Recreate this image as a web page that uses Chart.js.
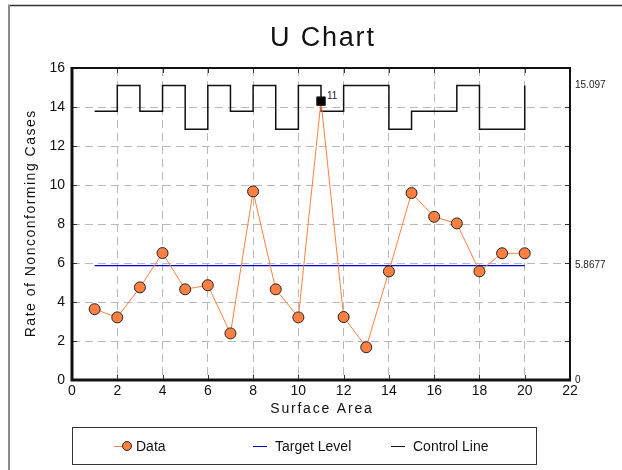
<!DOCTYPE html>
<html lang="en">
<head>
    <meta charset="UTF-8">
    <title>U Chart</title>
    <script src="https://cdn.jsdelivr.net/npm/chart.js"></script>
    <style>
        body {
            margin: 0;
            background: #fff;
        }
        #wrap {
            width: 622px;
            height: 470px;
        }
    </style>
</head>
<body>
    <div id="wrap">
        <canvas id="u-chart" width="622" height="470"></canvas>
    </div>

    <script>
        // Data
        const samples = [1, 2, 3, 4, 5, 6, 7, 8, 9, 10, 11, 12, 13, 14, 15, 16, 17, 18, 19, 20];
        const rates = [3.63, 3.21, 4.75, 6.51, 4.65, 4.86, 2.39, 9.67, 4.65, 3.21,
                       14.3, 3.23, 1.68, 5.57, 9.59, 8.37, 8.03, 5.57, 6.5, 6.5];
        const controlLimits = [13.78, 15.097, 13.78, 15.097, 12.86, 15.097, 13.78, 15.097, 12.86, 15.097,
                               13.78, 15.097, 15.097, 12.86, 13.78, 13.78, 15.097, 12.86, 12.86, 15.097];
        const targetLevel = 5.8677;
        const outOfControl = [11];
        const rightLabels = [0, 5.8677, 15.097];
        const legendNames = ['Data', 'Target Level', 'Control Line'];
        const chartTitle = 'U Chart';
        const xTitle = 'Surface Area';
        const yTitle = 'Rate of Nonconforming Cases';

        const orange = '#ff8040';
        const gridGray = '#b9b9b9';
        const fontFamily = "'Liberation Sans', Arial, sans-serif";
        Chart.defaults.font.family = fontFamily;
        Chart.defaults.color = '#111';

        const dataPoints = samples.map((s, i) => ({ x: s, y: rates[i] }));
        const targetPoints = [samples[0], samples[samples.length - 1]].map(s => ({ x: s, y: targetLevel }));
        const limitPoints = samples.map((s, i) => ({ x: s, y: controlLimits[i] }));
        const isOut = ctx => outOfControl.includes(samples[ctx.dataIndex]);

        // text drawn with a bit of letter spacing, like the original
        function spacedText(ctx, text, x, y, size, spacing) {
            ctx.font = size + 'px ' + fontFamily;
            ctx.letterSpacing = spacing + 'px';
            ctx.textAlign = 'center';
            ctx.textBaseline = 'alphabetic';
            ctx.fillText(text, x + spacing / 2, y);
            ctx.letterSpacing = '0px';
        }

        // titles, frame, inward ticks, outer border, point label and legend box
        const decorations = {
            id: 'decorations',
            afterDraw(chart) {
                const ctx = chart.ctx;
                const a = chart.chartArea;
                const xs = chart.scales.x, ys = chart.scales.y;
                ctx.save();

                // titles
                ctx.fillStyle = '#111';
                spacedText(ctx, chartTitle, 322, 46, 27, 1.8);
                spacedText(ctx, xTitle, 321, 413, 14, 1.8);
                ctx.save();
                ctx.translate(35, (a.top + a.bottom) / 2);
                ctx.rotate(-Math.PI / 2);
                spacedText(ctx, yTitle, 0, 0, 14, 1.5);
                ctx.restore();

                // outer page frame
                ctx.strokeStyle = '#333';
                ctx.lineWidth = 1.5;
                ctx.beginPath();
                ctx.moveTo(8, 5.5); ctx.lineTo(622, 5.5);
                ctx.stroke();
                ctx.strokeStyle = '#8a8a8a';
                ctx.lineWidth = 2;
                ctx.beginPath();
                ctx.moveTo(9, 5); ctx.lineTo(9, 470);
                ctx.stroke();

                // small inward ticks
                ctx.strokeStyle = '#333';
                ctx.lineWidth = 1;
                ctx.beginPath();
                xs.ticks.forEach(t => {
                    if (t.value <= xs.min || t.value >= xs.max) return;
                    const px = Math.round(xs.getPixelForValue(t.value)) + 0.5;
                    ctx.moveTo(px, a.top); ctx.lineTo(px, a.top + 5);
                    ctx.moveTo(px, a.bottom); ctx.lineTo(px, a.bottom - 5);
                });
                ys.ticks.forEach(t => {
                    if (t.value <= ys.min || t.value >= ys.max) return;
                    const py = Math.round(ys.getPixelForValue(t.value)) + 0.5;
                    ctx.moveTo(a.left, py); ctx.lineTo(a.left + 5, py);
                    ctx.moveTo(a.right, py); ctx.lineTo(a.right - 5, py);
                });
                ctx.stroke();

                // plot frame: thin top/right, heavy left/bottom axes
                ctx.strokeStyle = '#111';
                ctx.lineWidth = 2;
                ctx.beginPath();
                ctx.moveTo(a.left, a.top); ctx.lineTo(a.right, a.top); ctx.lineTo(a.right, a.bottom);
                ctx.stroke();
                ctx.lineWidth = 3;
                ctx.beginPath();
                ctx.moveTo(a.left, a.top - 1); ctx.lineTo(a.left, a.bottom); ctx.lineTo(a.right + 1, a.bottom);
                ctx.stroke();

                // label for the out-of-control point
                const meta = chart.getDatasetMeta(0);
                ctx.fillStyle = '#222';
                ctx.font = '10px ' + fontFamily;
                ctx.textBaseline = 'middle';
                ctx.textAlign = 'left';
                outOfControl.forEach(s => {
                    const el = meta.data[samples.indexOf(s)];
                    ctx.fillText(String(s), el.x + 6, el.y - 5);
                });

                // legend box
                ctx.strokeStyle = '#333';
                ctx.lineWidth = 1;
                ctx.strokeRect(72.5, 427.5, 464, 37);
                const ly = 446;
                const starts = [114, 253, 391];
                const colors = [orange, '#0000cc', '#111'];
                ctx.font = '14px ' + fontFamily;
                legendNames.forEach((name, i) => {
                    const x0 = starts[i];
                    ctx.strokeStyle = colors[i];
                    ctx.lineWidth = 1;
                    ctx.beginPath();
                    ctx.moveTo(x0, ly + 0.5); ctx.lineTo(x0 + 14, ly + 0.5);
                    ctx.stroke();
                    if (i === 0) {
                        ctx.beginPath();
                        ctx.arc(x0 + 13, ly, 4.5, 0, Math.PI * 2);
                        ctx.fillStyle = orange;
                        ctx.fill();
                        ctx.strokeStyle = '#222';
                        ctx.stroke();
                    }
                    ctx.fillStyle = '#111';
                    ctx.fillText(name, x0 + 22, ly + 1);
                });
                ctx.restore();
            }
        };

        new Chart(document.getElementById('u-chart'), {
            type: 'line',
            data: {
                datasets: [{
                    label: 'Data',
                    data: dataPoints,
                    borderColor: orange,
                    borderWidth: 1,
                    backgroundColor: ctx => isOut(ctx) ? '#000' : orange,
                    pointBorderColor: '#222',
                    pointBorderWidth: 1,
                    pointStyle: ctx => isOut(ctx) ? 'rect' : 'circle',
                    pointRadius: ctx => isOut(ctx) ? 6 : 5.5,
                    tension: 0
                }, {
                    label: 'Target Level',
                    data: targetPoints,
                    borderColor: '#0000cc',
                    borderWidth: 1.2,
                    pointRadius: 0
                }, {
                    label: 'Control Line',
                    data: limitPoints,
                    borderColor: '#111',
                    borderWidth: 1.5,
                    stepped: true,
                    pointRadius: 0
                }]
            },
            options: {
                responsive: false,
                animation: false,
                events: [],
                layout: { padding: { top: 68 } },
                plugins: {
                    legend: { display: false },
                    tooltip: { enabled: false }
                },
                scales: {
                    x: {
                        type: 'linear',
                        min: 0,
                        max: 22,
                        ticks: { stepSize: 2, padding: 3, font: { size: 14 }, color: '#111' },
                        grid: {
                            drawTicks: false,
                            color: ctx => (ctx.tick.value === 0 || ctx.tick.value === 22) ? 'rgba(0,0,0,0)' : gridGray
                        },
                        border: { display: false, dash: [8, 5] },
                        afterFit(scale) { scale.height = 90; }
                    },
                    y: {
                        min: 0,
                        max: 16,
                        ticks: { stepSize: 2, padding: 7, font: { size: 14 }, color: '#111' },
                        grid: {
                            drawTicks: false,
                            color: ctx => (ctx.tick.value === 0 || ctx.tick.value === 16) ? 'rgba(0,0,0,0)' : gridGray
                        },
                        border: { display: false, dash: [8, 5] },
                        afterFit(scale) { scale.width = 72; }
                    },
                    yRight: {
                        position: 'right',
                        min: 0,
                        max: 16,
                        afterBuildTicks(scale) {
                            scale.ticks = rightLabels.map(v => ({ value: v }));
                        },
                        ticks: {
                            padding: 5,
                            font: { size: 10 },
                            color: '#222',
                            callback: v => String(v)
                        },
                        grid: { display: false, drawTicks: false },
                        border: { display: false },
                        afterFit(scale) { scale.width = 52; }
                    }
                }
            },
            plugins: [decorations]
        });
    </script>
</body>
</html>
